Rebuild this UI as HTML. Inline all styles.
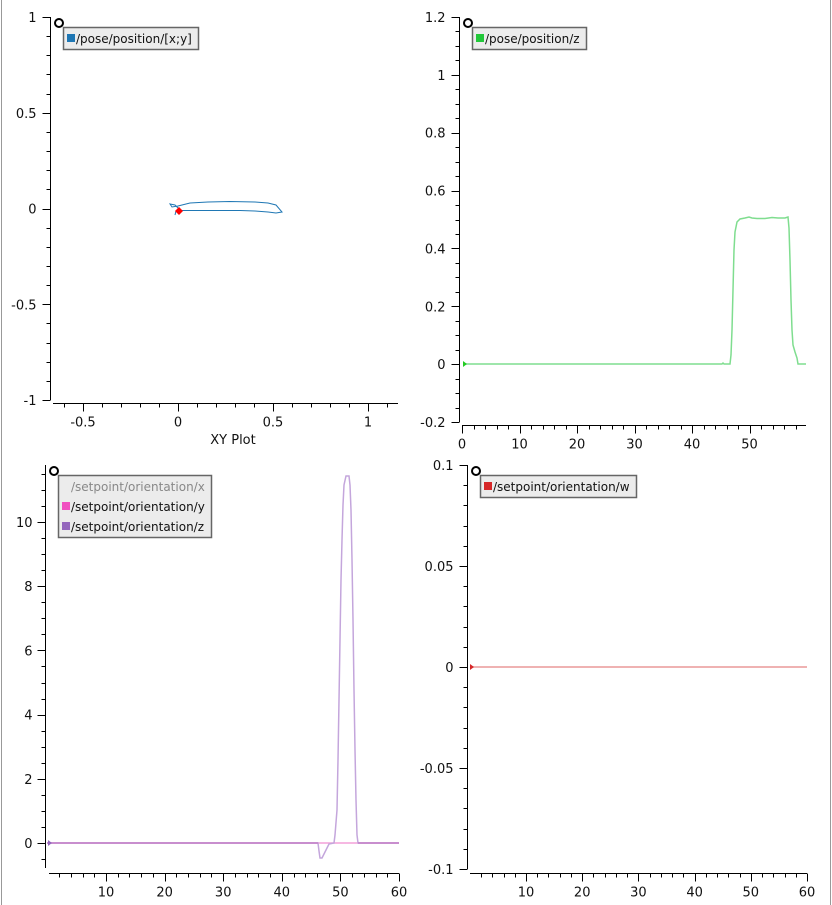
<!DOCTYPE html>
<html><head><meta charset="utf-8"><style>
html,body{margin:0;padding:0;background:#fff;}
svg{display:block;font-family:"DejaVu Sans","Liberation Sans",sans-serif;font-size:13px;}
.lg{font-size:12px;}
</style></head><body>
<svg id="s" width="832" height="905" xmlns="http://www.w3.org/2000/svg">
<rect width="832" height="905" fill="#fff"/>
<line x1="1.5" y1="0" x2="1.5" y2="905" stroke="#999" stroke-width="1"/>
<line x1="830.5" y1="0" x2="830.5" y2="905" stroke="#999" stroke-width="1"/>
<g id="ax" stroke="#000" stroke-width="1" fill="none"></g>
<g id="lbl" fill="#111"></g>

<polyline fill="none" stroke="#1f77b4" stroke-width="1" points="180,210 175,205 170,204 172,207 178,206 190,203 208,202 230,201.5 255,202 268,203 276,205 282,212 276,213 268,212 255,211 240,210.5 215,210.5 195,210.5 182,210.5 176,211 175,215"/>
<polygon points="179,207 183,211 179,215 175,211" fill="#f00"/>
<text x="233" y="444" text-anchor="middle" fill="#111">XY Plot</text>

<polyline fill="none" stroke="#7fdd8f" stroke-width="1.5" points="463,364 722,364 723,363 724,364 730,364 731,355 732,330 733,290 734,250 735,232 737,222 740,219 745,218 749,217 752,218 757,218.5 765,218.5 772,217.5 778,218 785,218 788,217 789,228 790,260 791,300 792,330 793,345 795,352 797,358 798,364 806,364"/>
<polygon points="463,361 467,364 463,367" fill="#2c2"/>

<line x1="47" y1="843" x2="399" y2="843" stroke="#f4a0d8" stroke-width="1.5"/>
<polyline fill="none" stroke="#c4a6dc" stroke-width="1.5" points="47,843 318,843 319,851 320,858 322,858 324,854 327,848 329,844 334,843 335,835 337,810 338,760 339,700 340,640 341,580 342,540 343,505 344,485 346,476 349,476 350,485 351,510 352,560 353,620 354,690 355,750 356,800 357,835 358,843 399,843"/>
<line x1="47" y1="843" x2="318" y2="843" stroke="#c080c8" stroke-width="1.5"/>
<line x1="358" y1="843" x2="399" y2="843" stroke="#c080c8" stroke-width="1.5"/>
<polygon points="48,840 52,843 48,846" fill="#9467bd"/>

<line x1="470" y1="667" x2="807" y2="667" stroke="#ea9898" stroke-width="1.5"/>
<polygon points="470,664 474,667 470,670" fill="#d62728"/>

<g stroke="#000" stroke-width="2" fill="none">
<circle cx="59" cy="23" r="4"/><circle cx="468" cy="23" r="4"/><circle cx="54" cy="471" r="4"/><circle cx="476" cy="471" r="4"/>
</g>
<g stroke="#666" stroke-width="1.5" fill="#ececec">
<rect x="63.5" y="27.5" width="135" height="22"/>
<rect x="472.5" y="27.5" width="114" height="22"/>
<rect x="58.5" y="475.5" width="153" height="62"/>
<rect x="480.5" y="475.5" width="156" height="22"/>
</g>
<g class="lg">
<rect x="67" y="34" width="8" height="8" fill="#1f77b4"/>
<text x="76" y="43" fill="#111">/pose/position/[x;y]</text>
<rect x="476" y="34" width="8" height="8" fill="#22c83a"/>
<text x="485" y="43" fill="#111">/pose/position/z</text>
<text x="71" y="491" fill="#888">/setpoint/orientation/x</text>
<rect x="62" y="502" width="8" height="8" fill="#f050c0"/>
<text x="71" y="511" fill="#111">/setpoint/orientation/y</text>
<rect x="62" y="522" width="8" height="8" fill="#9467bd"/>
<text x="71" y="531" fill="#111">/setpoint/orientation/z</text>
<rect x="484" y="482" width="8" height="8" fill="#d62728"/>
<text x="493" y="491" fill="#111">/setpoint/orientation/w</text>
</g>
</svg>
<script>
var ax=document.getElementById('ax'),lb=document.getElementById('lbl'),NS='http://www.w3.org/2000/svg';
function L(x1,y1,x2,y2){var e=document.createElementNS(NS,'line');e.setAttribute('x1',x1);e.setAttribute('y1',y1);e.setAttribute('x2',x2);e.setAttribute('y2',y2);ax.appendChild(e);}
function T(x,y,s,a){var e=document.createElementNS(NS,'text');e.setAttribute('x',x);e.setAttribute('y',y);e.setAttribute('text-anchor',a);e.textContent=s;lb.appendChild(e);}
function yaxis(x,y0,y1,v0,v1,major,minor,labels){L(x,y0,x,y1);var sc=(y1-y0)/(v1-v0);var st=(v1>v0?1:-1)*minor;
 var n=Math.round(Math.abs(v1-v0)/minor);for(var i=0;i<=n;i++){var v=v0+i*st;var y=Math.round(y0+(v-v0)*sc)+0.5;var isM=Math.abs(v/major-Math.round(v/major))<1e-6;L(x-(isM?8:4),y,x,y);}
 labels.forEach(function(p){T(x-14,y0+(p[0]-v0)*sc+5,p[1],'end');});}
function xaxis(y,xa,xb,x0,u0,sc,major,minor,labels,vmin,vmax){L(xa,y,xb,y);
 for(var v=vmin;v<=vmax+1e-9;v+=minor){var x=Math.round(x0+(v-u0)*sc)+0.5;var isM=Math.abs(v/major-Math.round(v/major))<1e-6;L(x,y,x,y+(isM?8:4));}
 labels.forEach(function(p){T(x0+(p[0]-u0)*sc,y+23,p[1],'middle');});}
yaxis(50.5,17,400,1,-1,0.5,0.1,[[1,'1'],[0.5,'0.5'],[0,'0'],[-0.5,'-0.5'],[-1,'-1']]);
xaxis(403.5,53,398,178,0,190,0.5,0.1,[[-0.5,'-0.5'],[0,'0'],[0.5,'0.5'],[1,'1']],-0.6,1.1);
yaxis(459.5,17,422,1.2,-0.2,0.2,0.05,[[1.2,'1.2'],[1,'1'],[0.8,'0.8'],[0.6,'0.6'],[0.4,'0.4'],[0.2,'0.2'],[0,'0'],[-0.2,'-0.2']]);
xaxis(425.5,462,806,462,0,5.75,10,2,[[0,'0'],[10,'10'],[20,'20'],[30,'30'],[40,'40'],[50,'50']],0,58);
(function(){var x=45.5;L(x,465,x,868);var sc=32.1;for(var v=-1.5;v<=11.5;v+=0.5){var y=Math.round(843-v*sc)+0.5;if(y<465||y>868)continue;var M=Math.abs(v/2-Math.round(v/2))<1e-6;L(x-(M?8:4),y,x,y);}
[0,2,4,6,8,10].forEach(function(v){T(x-13,843-v*sc+5,String(v),'end');});})();
xaxis(873.5,49,399,47.4,0,5.86,10,2,[[10,'10'],[20,'20'],[30,'30'],[40,'40'],[50,'50'],[60,'60']],2,60);
yaxis(467.5,465,869,0.1,-0.1,0.05,0.01,[[0.1,'0.1'],[0.05,'0.05'],[0,'0'],[-0.05,'-0.05'],[-0.1,'-0.1']]);
xaxis(873.5,470,807,469.8,0,5.62,10,2,[[10,'10'],[20,'20'],[30,'30'],[40,'40'],[50,'50'],[60,'60']],2,60);
</script>
</body></html>
